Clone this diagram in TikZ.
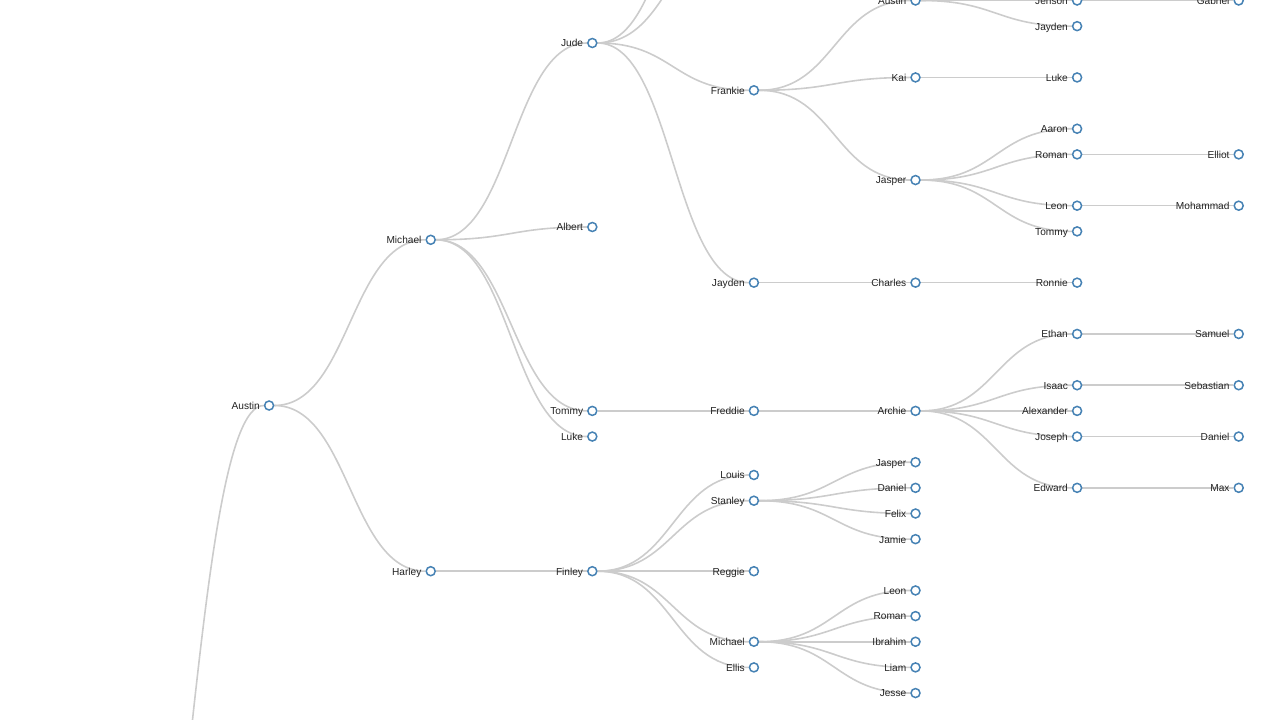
\documentclass[tikz,border=0pt]{standalone}
\usepackage{fontspec}
\setmainfont{Liberation Sans}
\usetikzlibrary{backgrounds}
\definecolor{steelblue}{RGB}{70,130,180}
\definecolor{linkgray}{RGB}{204,204,204}
\definecolor{namegray}{RGB}{34,34,34}
\tikzset{
    %Define style for tree nodes
    person/.style={
           circle,
           draw=steelblue, line width=1.125pt,
           fill=white,
           minimum size=6.75pt,
           inner sep=0pt},
    %Define style for names
    tag/.style={
           anchor=base east,
           inner sep=0pt,
           yshift=-2.9pt,
           text=namegray,
           font=\fontsize{7.6pt}{9pt}\selectfont},
    % Define link style
    link/.style={
           draw=linkgray, line width=1.2pt,
           to path={.. controls ([xshift=60.6pt]\tikztostart)
                    and ([xshift=-60.6pt]\tikztotarget) .. (\tikztotarget)}}
}
\begin{document}
\begin{tikzpicture}[x=0.75pt,y=-0.75pt,label distance=2.8pt]
\useasboundingbox (0,0) rectangle (1280,720);
\clip (0,0) rectangle (1280,720);
 %off-screen ends
\coordinate (root) at (107.5,1123);
\coordinate (c4a) at (753.9,-196.6);
\coordinate (c4b) at (753.9,-82);
\coordinate (c6a) at (1077.1,-25.2);
 %nodes
\node[person,label={[tag]left:Austin}](austin1) at (269.1,405.5){};
\node[person,label={[tag]left:Michael}](michael2) at (430.7,239.8){};
\node[person,label={[tag]left:Harley}](harley2) at (430.7,571.2){};
\node[person,label={[tag]left:Jude}](jude3) at (592.3,43){};
\node[person,label={[tag]left:Albert}](albert3) at (592.3,227){};
\node[person,label={[tag]left:Tommy}](tommy3) at (592.3,410.9){};
\node[person,label={[tag]left:Luke}](luke3) at (592.3,436.55){};
\node[person,label={[tag]left:Finley}](finley3) at (592.3,571.2){};
\node[person,label={[tag]left:Frankie}](frankie4) at (753.9,90.3){};
\node[person,label={[tag]left:Jayden}](jayden4) at (753.9,282.65){};
\node[person,label={[tag]left:Freddie}](freddie4) at (753.9,410.9){};
\node[person,label={[tag]left:Louis}](louis4) at (753.9,475){};
\node[person,label={[tag]left:Stanley}](stanley4) at (753.9,500.7){};
\node[person,label={[tag]left:Reggie}](reggie4) at (753.9,571.2){};
\node[person,label={[tag]left:Michael}](michael4) at (753.9,641.75){};
\node[person,label={[tag]left:Ellis}](ellis4) at (753.9,667.4){};
\node[person,label={[tag]left:Austin}](austin5) at (915.5,0.5){};
\node[person,label={[tag]left:Kai}](kai5) at (915.5,77.45){};
\node[person,label={[tag]left:Jasper}](jasper5a) at (915.5,180.05){};
\node[person,label={[tag]left:Charles}](charles5) at (915.5,282.65){};
\node[person,label={[tag]left:Archie}](archie5) at (915.5,410.9){};
\node[person,label={[tag]left:Jasper}](jasper5b) at (915.5,462.2){};
\node[person,label={[tag]left:Daniel}](daniel5) at (915.5,487.85){};
\node[person,label={[tag]left:Felix}](felix5) at (915.5,513.5){};
\node[person,label={[tag]left:Jamie}](jamie5) at (915.5,539.15){};
\node[person,label={[tag]left:Leon}](leon5) at (915.5,590.45){};
\node[person,label={[tag]left:Roman}](roman5) at (915.5,616.1){};
\node[person,label={[tag]left:Ibrahim}](ibrahim5) at (915.5,641.75){};
\node[person,label={[tag]left:Liam}](liam5) at (915.5,667.4){};
\node[person,label={[tag]left:Jesse}](jesse5) at (915.5,693.05){};
\node[person,label={[tag]left:Jenson}](jenson6) at (1077.1,0.5){};
\node[person,label={[tag]left:Jayden}](jayden6) at (1077.1,26.15){};
\node[person,label={[tag]left:Luke}](luke6) at (1077.1,77.45){};
\node[person,label={[tag]left:Aaron}](aaron6) at (1077.1,128.75){};
\node[person,label={[tag]left:Roman}](roman6) at (1077.1,154.4){};
\node[person,label={[tag]left:Leon}](leon6) at (1077.1,205.7){};
\node[person,label={[tag]left:Tommy}](tommy6) at (1077.1,231.35){};
\node[person,label={[tag]left:Ronnie}](ronnie6) at (1077.1,282.65){};
\node[person,label={[tag]left:Ethan}](ethan6) at (1077.1,333.95){};
\node[person,label={[tag]left:Isaac}](isaac6) at (1077.1,385.25){};
\node[person,label={[tag]left:Alexander}](alexander6) at (1077.1,410.9){};
\node[person,label={[tag]left:Joseph}](joseph6) at (1077.1,436.55){};
\node[person,label={[tag]left:Edward}](edward6) at (1077.1,487.85){};
\node[person,label={[tag]left:Gabriel}](gabriel7) at (1238.7,0.5){};
\node[person,label={[tag]left:Elliot}](elliot7) at (1238.7,154.4){};
\node[person,label={[tag]left:Mohammad}](mohammad7) at (1238.7,205.7){};
\node[person,label={[tag]left:Samuel}](samuel7) at (1238.7,333.95){};
\node[person,label={[tag]left:Sebastian}](sebastian7) at (1238.7,385.25){};
\node[person,label={[tag]left:Daniel}](daniel7) at (1238.7,436.55){};
\node[person,label={[tag]left:Max}](max7) at (1238.7,487.85){};
 %links
\begin{pgfonlayer}{background}
\clip (0,0) rectangle (1280,720);
\path[link]
    (root) edge (austin1)
    (austin1) edge (michael2) edge (harley2)
    (michael2) edge (jude3) edge (albert3) edge (tommy3) edge (luke3)
    (jude3) edge (c4a) edge (c4b) edge (frankie4) edge (jayden4)
    (frankie4) edge (austin5) edge (kai5) edge (jasper5a)
    (austin5) edge (c6a) edge (jenson6) edge (jayden6)
    (jenson6) edge (gabriel7)
    (kai5) edge (luke6)
    (jasper5a) edge (aaron6) edge (roman6) edge (leon6) edge (tommy6)
    (roman6) edge (elliot7)
    (leon6) edge (mohammad7)
    (jayden4) edge (charles5)
    (charles5) edge (ronnie6)
    (tommy3) edge (freddie4)
    (freddie4) edge (archie5)
    (archie5) edge (ethan6) edge (isaac6) edge (alexander6) edge (joseph6) edge (edward6)
    (ethan6) edge (samuel7)
    (isaac6) edge (sebastian7)
    (joseph6) edge (daniel7)
    (edward6) edge (max7)
    (harley2) edge (finley3)
    (finley3) edge (louis4) edge (stanley4) edge (reggie4) edge (michael4) edge (ellis4)
    (stanley4) edge (jasper5b) edge (daniel5) edge (felix5) edge (jamie5)
    (michael4) edge (leon5) edge (roman5) edge (ibrahim5) edge (liam5) edge (jesse5);
\end{pgfonlayer}
\end{tikzpicture}
\end{document}
